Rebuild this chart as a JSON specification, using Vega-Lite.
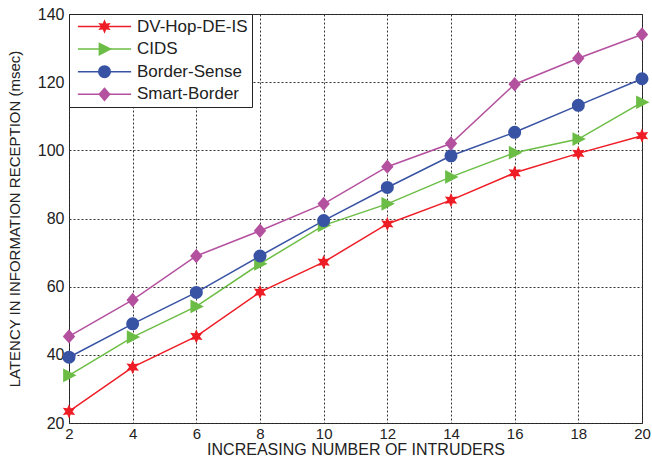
{
  "$schema": "https://vega.github.io/schema/vega-lite/v6.json",
  "width": 573,
  "height": 409,
  "autosize": {"type": "none"},
  "padding": {"left": 69, "top": 14, "right": 10, "bottom": 45},
  "background": "white",
  "config": {
    "font": "Liberation Sans",
    "view": {"stroke": "#222", "strokeWidth": 1}
  },
  "data": {
    "values": [
      {"n": 2, "method": "DV-Hop-DE-IS", "latency": 23.4},
      {"n": 4, "method": "DV-Hop-DE-IS", "latency": 36.4},
      {"n": 6, "method": "DV-Hop-DE-IS", "latency": 45.4},
      {"n": 8, "method": "DV-Hop-DE-IS", "latency": 58.4},
      {"n": 10, "method": "DV-Hop-DE-IS", "latency": 67.2},
      {"n": 12, "method": "DV-Hop-DE-IS", "latency": 78.4},
      {"n": 14, "method": "DV-Hop-DE-IS", "latency": 85.4},
      {"n": 16, "method": "DV-Hop-DE-IS", "latency": 93.4},
      {"n": 18, "method": "DV-Hop-DE-IS", "latency": 99.1},
      {"n": 20, "method": "DV-Hop-DE-IS", "latency": 104.3},
      {"n": 2, "method": "CIDS", "latency": 34},
      {"n": 4, "method": "CIDS", "latency": 45.2},
      {"n": 6, "method": "CIDS", "latency": 54.2},
      {"n": 8, "method": "CIDS", "latency": 66.7},
      {"n": 10, "method": "CIDS", "latency": 78},
      {"n": 12, "method": "CIDS", "latency": 84.3},
      {"n": 14, "method": "CIDS", "latency": 92.2},
      {"n": 16, "method": "CIDS", "latency": 99.3},
      {"n": 18, "method": "CIDS", "latency": 103.3},
      {"n": 20, "method": "CIDS", "latency": 114.1},
      {"n": 2, "method": "Border-Sense", "latency": 39.3},
      {"n": 4, "method": "Border-Sense", "latency": 49.1},
      {"n": 6, "method": "Border-Sense", "latency": 58.3},
      {"n": 8, "method": "Border-Sense", "latency": 69},
      {"n": 10, "method": "Border-Sense", "latency": 79.4},
      {"n": 12, "method": "Border-Sense", "latency": 89.1},
      {"n": 14, "method": "Border-Sense", "latency": 98.4},
      {"n": 16, "method": "Border-Sense", "latency": 105.3},
      {"n": 18, "method": "Border-Sense", "latency": 113.2},
      {"n": 20, "method": "Border-Sense", "latency": 121},
      {"n": 2, "method": "Smart-Border", "latency": 45.4},
      {"n": 4, "method": "Smart-Border", "latency": 56.1},
      {"n": 6, "method": "Smart-Border", "latency": 69},
      {"n": 8, "method": "Smart-Border", "latency": 76.4},
      {"n": 10, "method": "Smart-Border", "latency": 84.3},
      {"n": 12, "method": "Smart-Border", "latency": 95.2},
      {"n": 14, "method": "Smart-Border", "latency": 102},
      {"n": 16, "method": "Smart-Border", "latency": 119.4},
      {"n": 18, "method": "Smart-Border", "latency": 127},
      {"n": 20, "method": "Smart-Border", "latency": 134}
    ]
  },
  "encoding": {
    "x": {
      "field": "n",
      "type": "quantitative",
      "scale": {"domain": [2, 20], "nice": false, "zero": false},
      "axis": {
        "values": [2, 4, 6, 8, 10, 12, 14, 16, 18, 20],
        "title": "INCREASING NUMBER OF INTRUDERS",
        "grid": true,
        "gridDash": [2, 2],
        "gridColor": "#333",
        "gridOpacity": 1,
        "domain": false,
        "ticks": false,
        "labelFontSize": 15,
        "labelColor": "#222",
        "labelPadding": 3,
        "labelFlush": false,
        "titleFontSize": 16,
        "titleFontWeight": "normal",
        "titleColor": "#222",
        "titlePadding": 0
      }
    },
    "y": {
      "field": "latency",
      "type": "quantitative",
      "scale": {"domain": [20, 140], "nice": false, "zero": false},
      "axis": {
        "values": [20, 40, 60, 80, 100, 120, 140],
        "title": "LATENCY IN INFORMATION RECEPTION (msec)",
        "grid": true,
        "gridDash": [2, 2],
        "gridColor": "#333",
        "gridOpacity": 1,
        "domain": false,
        "ticks": false,
        "labelFontSize": 16,
        "labelColor": "#222",
        "labelPadding": 5,
        "labelFlush": false,
        "titleFontSize": 15,
        "titleFontWeight": "normal",
        "titleColor": "#222",
        "titlePadding": 15
      }
    }
  },
  "layer": [
    {
      "mark": {"type": "line", "strokeWidth": 1.5},
      "encoding": {
        "stroke": {
          "field": "method",
          "type": "nominal",
          "sort": ["DV-Hop-DE-IS", "CIDS", "Border-Sense", "Smart-Border"],
          "scale": {
            "range": ["#ee1c25", "#6cbd45", "#3953a4", "#b4519f"]
          },
          "legend": {
            "title": null,
            "orient": "top-left",
            "offset": 0,
            "zindex": 0,
            "padding": 4,
            "rowPadding": 4.6,
            "strokeColor": "#222",
            "fillColor": "white",
            "labelFontSize": 17,
            "labelColor": "#222",
            "symbolType": "M-3.8,0H3.8",
            "symbolSize": 196,
            "symbolStrokeWidth": 1.5,
            "symbolOffset": 23,
            "labelOffset": 24
          }
        }
      }
    },
    {
      "mark": {"type": "point", "filled": true, "opacity": 1, "size": 170},
      "encoding": {
        "color": {
          "field": "method",
          "type": "nominal",
          "scale": {
            "domain": ["DV-Hop-DE-IS", "CIDS", "Border-Sense", "Smart-Border"],
            "range": ["#ee1c25", "#6cbd45", "#3953a4", "#b4519f"]
          },
          "legend": {
            "title": null,
            "orient": "none",
            "legendX": 0,
            "legendY": 0,
            "zindex": 1,
            "padding": 4,
            "rowPadding": 4.6,
            "labelFontSize": 17,
            "labelExpr": "''",
            "symbolSize": 170,
            "symbolStrokeWidth": 0,
            "symbolOffset": 23,
            "labelOffset": 0
          }
        },
        "shape": {
          "field": "method",
          "type": "nominal",
          "scale": {
            "domain": ["DV-Hop-DE-IS", "CIDS", "Border-Sense", "Smart-Border"],
            "range": [
              "M0,-1.1L0.27,-0.47L0.95,-0.55L0.55,0L0.95,0.55L0.27,0.47L0,1.1L-0.27,0.47L-0.95,0.55L-0.55,0L-0.95,-0.55L-0.27,-0.47Z",
              "M-0.9,-1.05L1.15,0L-0.9,1.05Z",
              "circle",
              "M-0.95,0L0,-1.1L0.95,0L0,1.1Z"
            ]
          },
          "legend": null
        }
      }
    }
  ]
}
